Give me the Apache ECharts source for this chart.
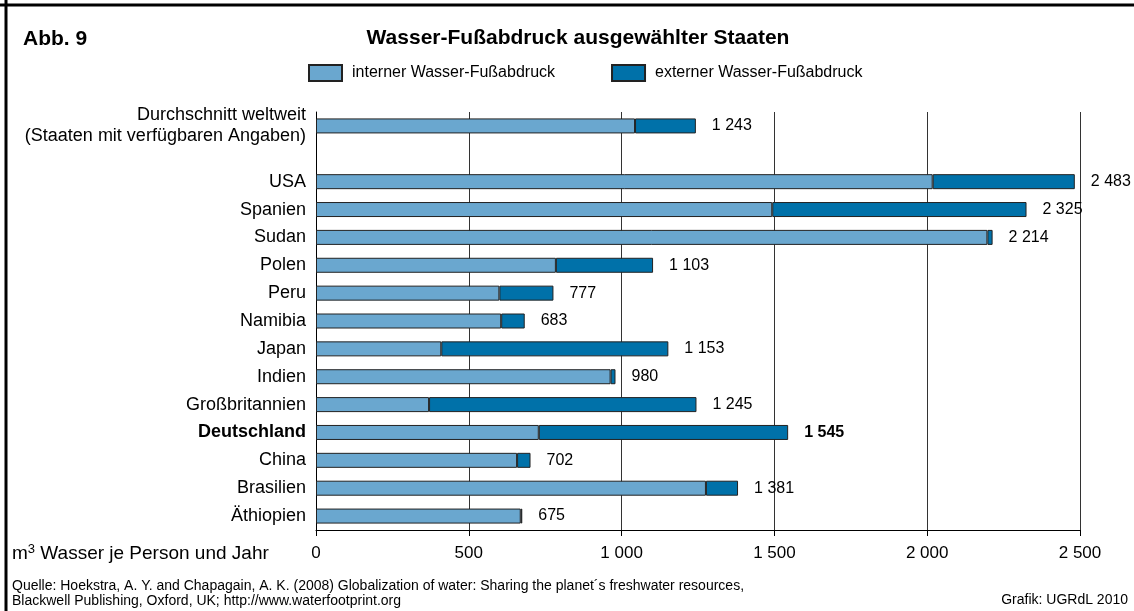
<!DOCTYPE html>
<html>
<head>
<meta charset="utf-8">
<script src="https://cdn.jsdelivr.net/npm/echarts@6/dist/echarts.min.js"></script>
<style>
  html, body { margin: 0; padding: 0; background: #fff; }
  #chart { width: 1134px; height: 611px; }
</style>
</head>
<body>
<div id="chart"></div>
<script>
// '' = leerer Abstand zwischen Durchschnitt und den Staaten
const categories = ['Durchschnitt weltweit\n(Staaten mit verfügbaren Angaben)', '', 'USA', 'Spanien', 'Sudan', 'Polen', 'Peru',
  'Namibia', 'Japan', 'Indien', 'Großbritannien', 'Deutschland', 'China', 'Brasilien', 'Äthiopien']
const intern = [1044, null, 2018, 1493, 2197, 785, 600, 606, 410, 964, 370, 729, 658, 1276, 670]
const extern = [199, null, 465, 832, 17, 318, 177, 77, 743, 16, 875, 816, 44, 105, 5]
const xTicks = [0, 500, 1000, 1500, 2000, 2500]

const fmt = v => String(v).replace(/\B(?=(\d{3})+(?!\d))/g, ' ')
const FONT = 'Liberation Sans'

const chart = echarts.init(document.getElementById('chart'))
const options = {
  backgroundColor: '#fff',
  animation: false,
  textStyle: { fontFamily: FONT, color: '#000' },
  title: [
    {
      text: 'Abb. 9',
      left: 18, top: 24,
      textStyle: { fontSize: 21, fontWeight: 'bold', color: '#000', fontFamily: FONT }
    },
    {
      text: 'Wasser-Fußabdruck ausgewählter Staaten',
      left: 573, top: 23, textAlign: 'center',
      textStyle: { fontSize: 21, fontWeight: 'bold', color: '#000', fontFamily: FONT }
    }
  ],
  legend: {
    top: 59,
    left: 303,
    itemWidth: 33,
    itemHeight: 16,
    itemGap: 56,
    icon: 'rect',
    textStyle: { fontSize: 16, color: '#000', fontFamily: FONT, padding: [0, 0, 0, 5] },
    data: ['interner Wasser-Fußabdruck', 'externer Wasser-Fußabdruck']
  },
  grid: { left: 316, right: 54, top: 112, bottom: 81 },
  xAxis: {
    type: 'value',
    min: xTicks[0],
    max: xTicks[xTicks.length - 1],
    interval: 500,
    axisLine: { show: true, lineStyle: { color: '#000', width: 1 } },
    axisTick: { show: true, length: 6, lineStyle: { color: '#000' } },
    axisLabel: {
      margin: 15, fontSize: 17, color: '#000', fontFamily: FONT,
      formatter: v => fmt(v)
    },
    splitLine: { show: true, lineStyle: { color: '#333', width: 1 } }
  },
  yAxis: {
    type: 'category',
    inverse: true,
    data: categories,
    axisLine: { show: true, lineStyle: { color: '#000', width: 1 } },
    axisTick: { show: false },
    axisLabel: {
      margin: 10, fontSize: 18, color: '#000', fontFamily: FONT, lineHeight: 21,
      formatter: v => v === 'Deutschland' ? '{b|' + v + '}' : v,
      rich: { b: { fontWeight: 'bold', fontSize: 18, fontFamily: FONT } }
    }
  },
  graphic: [
    { type: 'line', shape: { x1: 6, y1: 0, x2: 6, y2: 611 }, style: { stroke: '#000', lineWidth: 3 } },
    { type: 'line', shape: { x1: 0, y1: 5, x2: 1134, y2: 5 }, style: { stroke: '#000', lineWidth: 3 } },
    {
      type: 'text', left: 12, top: 543,
      style: { rich: { n: { fontSize: 19, fontFamily: FONT }, s: { fontSize: 13, verticalAlign: 'top', fontFamily: FONT, padding: [0, 0, 9, 0] } },
        text: '{n|m}{s|3}{n| Wasser je Person und Jahr}', fill: '#000' }
    },
    {
      type: 'text', left: 12, top: 579,
      style: { text: 'Quelle: Hoekstra, A. Y. and Chapagain, A. K. (2008) Globalization of water: Sharing the planet´s freshwater resources,\nBlackwell Publishing, Oxford, UK; http://www.waterfootprint.org',
        fontSize: 14, lineHeight: 14.5, fill: '#000', fontFamily: FONT }
    },
    {
      type: 'text', right: 6, top: 593,
      style: { text: 'Grafik: UGRdL 2010', fontSize: 14, fill: '#000', fontFamily: FONT }
    }
  ],
  series: [
    {
      name: 'interner Wasser-Fußabdruck',
      type: 'bar',
      stack: 'total',
      barWidth: 15,
      itemStyle: { color: '#6aa7cf', borderColor: '#222', borderWidth: 1 },
      data: intern
    },
    {
      name: 'externer Wasser-Fußabdruck',
      type: 'bar',
      stack: 'total',
      barWidth: 15,
      itemStyle: { color: '#0071a9', borderColor: '#222', borderWidth: 1 },
      label: {
        show: true,
        position: 'right',
        distance: 16,
        fontSize: 16,
        color: '#000',
        fontFamily: FONT,
        formatter: p => {
          const total = intern[p.dataIndex] + extern[p.dataIndex]
          return categories[p.dataIndex] === 'Deutschland' ? '{b|' + fmt(total) + '}' : fmt(total)
        },
        rich: { b: { fontWeight: 'bold', fontSize: 16, fontFamily: FONT } }
      },
      data: extern
    }
  ]
}
chart.setOption(options)
window.addEventListener('resize', () => { chart.resize() })
</script>
</body>
</html>
